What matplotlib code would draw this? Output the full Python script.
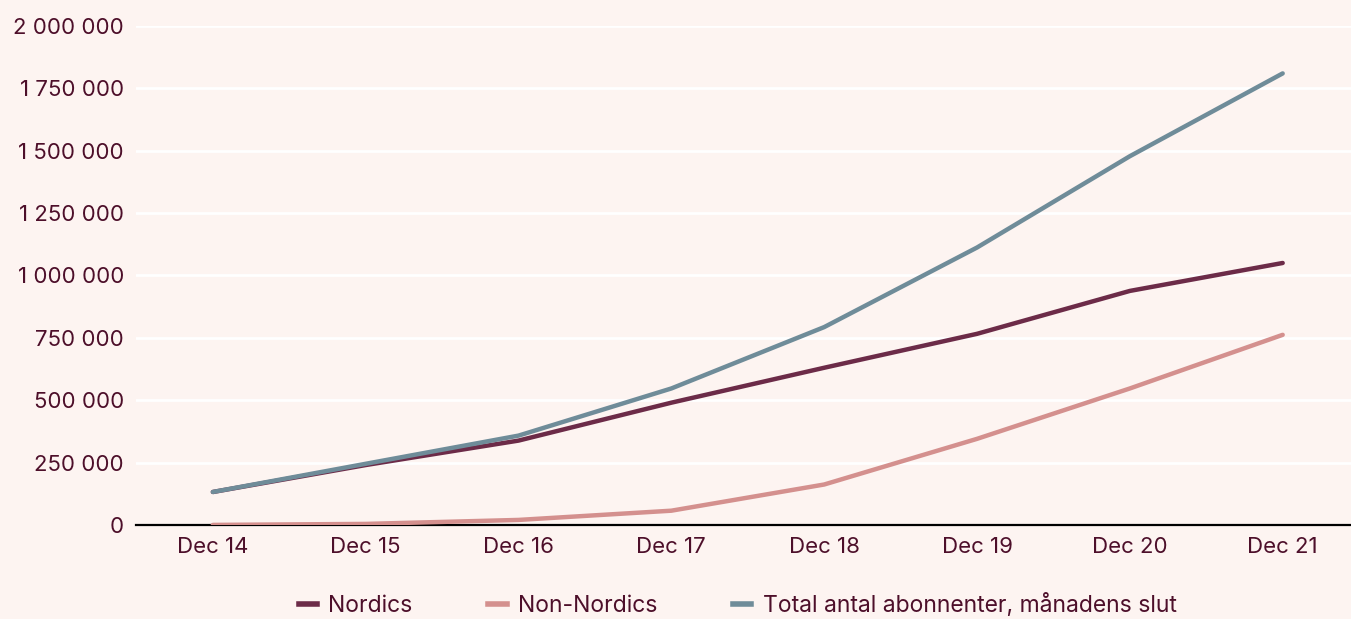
import matplotlib
matplotlib.use("Agg")
import matplotlib.pyplot as plt
from matplotlib.ticker import FuncFormatter
from matplotlib.lines import Line2D

# data
labels = ["Dec 14", "Dec 15", "Dec 16", "Dec 17", "Dec 18", "Dec 19", "Dec 20", "Dec 21"]
nordics = [132000, 240000, 338000, 490000, 630000, 766000, 938000, 1050000]
non_nordics = [0, 4000, 20000, 57000, 162000, 345000, 547000, 762000]
total = [132000, 245000, 358000, 547000, 793000, 1112000, 1478000, 1810000]

bg = "#fdf4f1"
txt = "#4d0f2a"
c_nord = "#6c2b48"
c_non = "#d4908e"
c_tot = "#6f8c99"

plt.rcParams['font.family'] = ['Inter', 'DejaVu Sans']

fig = plt.figure(figsize=(13.51, 6.19), dpi=100, facecolor=bg)
ax = fig.add_axes([0.101, 0.152, 0.905, 0.806], facecolor=bg)

x = range(len(labels))
ax.plot(x, nordics, color=c_nord, lw=3.2, solid_capstyle='round', zorder=3)
ax.plot(x, non_nordics, color=c_non, lw=3.2, solid_capstyle='round', zorder=3)
ax.plot(x, total, color=c_tot, lw=3.2, solid_capstyle='round', zorder=4)

ax.set_xlim(-0.5, 7.5)
ax.set_ylim(0, 2000000)
ax.set_yticks(range(0, 2000001, 250000))
ax.yaxis.set_major_formatter(FuncFormatter(lambda v, p: f"{int(v):,}".replace(",", " ")))
ax.set_xticks(list(x))
ax.set_xticklabels(labels)

ax.grid(axis='y', color='white', lw=2, zorder=0)
ax.set_axisbelow(True)
for s in ['top', 'right', 'left']:
    ax.spines[s].set_visible(False)
ax.spines['bottom'].set_color('black')
ax.spines['bottom'].set_linewidth(1.6)
ax.spines['bottom'].set_zorder(2)
ax.tick_params(length=0, labelsize=16, colors=txt, pad=9)
ax.tick_params(axis='y', pad=9)

handles = [Line2D([], [], color=c, lw=4) for c in (c_nord, c_non, c_tot)]
fig.legend(handles, ["Nordics", "Non-Nordics", "Total antal abonnenter, månadens slut"],
           loc='lower center', bbox_to_anchor=(0.546, -0.03), ncol=3, frameon=False,
           fontsize=16.5, labelcolor=txt, handlelength=0.8, columnspacing=3.3, handletextpad=0.5)

fig.savefig("out.png", dpi=100, facecolor=bg)
